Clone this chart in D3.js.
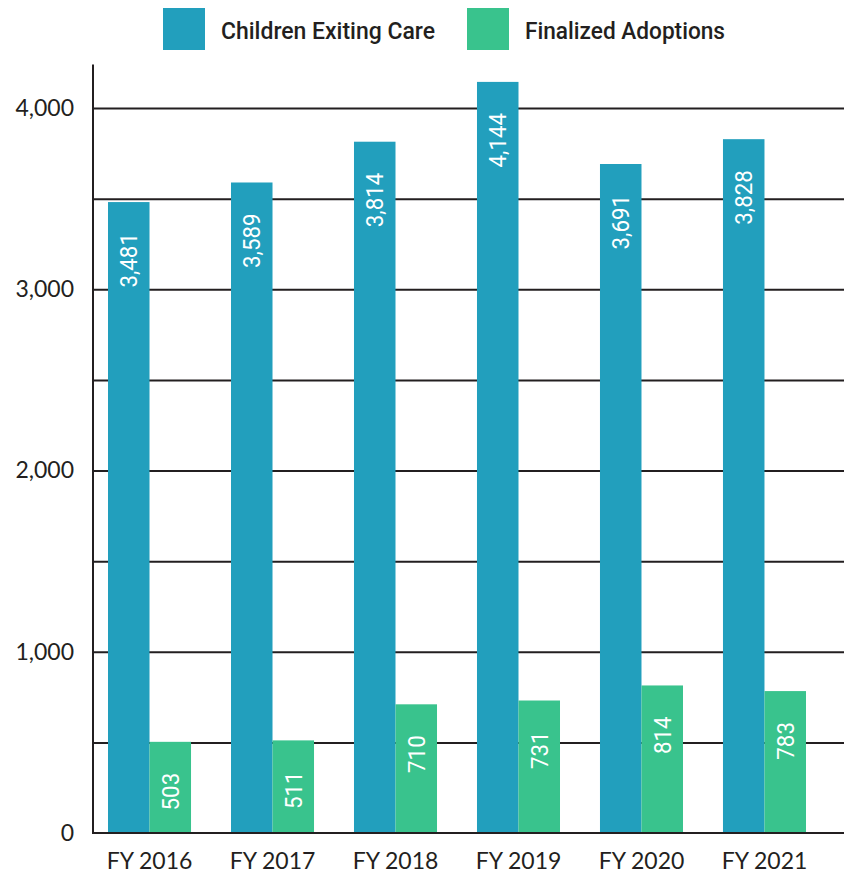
<!DOCTYPE html>
<html>
<head>
<meta charset="utf-8">
<script src="https://cdn.jsdelivr.net/npm/d3@7"></script>
<style>
  html, body { margin: 0; padding: 0; background: #ffffff; }
  svg { display: block; }
</style>
</head>
<body>
<svg id="chart" width="845" height="876"></svg>
<script>
const categories = ["FY 2016", "FY 2017", "FY 2018", "FY 2019", "FY 2020", "FY 2021"];
const seriesNames = ["Children Exiting Care", "Finalized Adoptions"];
const exitingCare = [3481, 3589, 3814, 4144, 3691, 3828];
const finalizedAdoptions = [503, 511, 710, 731, 814, 783];
const yTickValues = [0, 1000, 2000, 3000, 4000];
const gridValues = [500, 1000, 1500, 2000, 2500, 3000, 3500, 4000];
const seriesColors = ["#229fbd", "#39c38d"];

(function () {
const ink = "#231f20";
const svg = d3.select("#chart");
const mLeft = 93, mRight = 844, mBottom = 833, mTop = 64.5;

const y = d3.scaleLinear().domain([0, 4240]).range([mBottom, mTop]);
const x = d3.scaleBand().domain(categories).range([mLeft, mRight])
  .paddingInner(0.325).paddingOuter(0.2155).align(0.283);
const xs = d3.scaleBand().domain(seriesNames).range([0, x.bandwidth()]);
const color = d3.scaleOrdinal().domain(seriesNames).range(seriesColors);

const rows = categories.map((c, i) => ({
  category: c,
  values: [
    { series: seriesNames[0], value: exitingCare[i] },
    { series: seriesNames[1], value: finalizedAdoptions[i] }
  ]
}));

// gridlines
svg.append("g")
  .attr("transform", `translate(${mLeft},0)`)
  .call(d3.axisLeft(y).tickValues(gridValues).tickSize(-(mRight - mLeft)).tickFormat(""))
  .call(g => g.select(".domain").remove())
  .call(g => g.selectAll("line").attr("stroke", ink).attr("stroke-width", 2));

// bars
const groups = svg.append("g").selectAll("g").data(rows).join("g")
  .attr("transform", d => `translate(${x(d.category)},0)`);

groups.selectAll("rect").data(d => d.values).join("rect")
  .attr("x", d => xs(d.series))
  .attr("width", xs.bandwidth())
  .attr("y", d => y(d.value))
  .attr("height", d => y(0) - y(d.value))
  .attr("fill", d => color(d.series));

// bar value labels
groups.selectAll("text").data(d => d.values).join("text")
  .attr("transform", d => `translate(${xs(d.series) + xs.bandwidth() / 2},${y(d.value) + 31}) rotate(-90) scale(0.93,1)`)
  .attr("text-anchor", "end")
  .attr("dy", "0.36em")
  .attr("fill", "#ffffff")
  .style("font-family", "Roboto, 'Noto Sans', sans-serif")
  .style("font-size", "24px")
  .style("font-weight", 400)
  .text(d => d3.format(",")(d.value));

// axis lines
svg.append("line")
  .attr("x1", mLeft).attr("x2", mLeft)
  .attr("y1", y(0) + 1).attr("y2", y(4240))
  .attr("stroke", ink).attr("stroke-width", 2);
svg.append("line")
  .attr("x1", mLeft).attr("x2", mRight)
  .attr("y1", y(0)).attr("y2", y(0))
  .attr("stroke", ink).attr("stroke-width", 2);

// y axis labels
svg.append("g")
  .attr("transform", `translate(${mLeft},0)`)
  .call(d3.axisLeft(y).tickValues(yTickValues).tickSize(0).tickPadding(19).tickFormat(d3.format(",")))
  .call(g => g.select(".domain").remove())
  .call(g => g.selectAll("text")
    .attr("fill", ink)
    .style("font-family", "Lato, 'Open Sans', sans-serif")
    .style("font-size", "23px"));

// x axis labels
svg.append("g")
  .attr("transform", `translate(0,${mBottom})`)
  .call(d3.axisBottom(x).tickSize(0).tickPadding(20))
  .call(g => g.select(".domain").remove())
  .call(g => g.selectAll("text")
    .attr("fill", ink)
    .style("font-family", "Lato, 'Open Sans', sans-serif")
    .style("font-size", "23px"));

// legend
const legendX = [163, 467];
const legendTextWidth = [214, 200];
const legend = svg.append("g").selectAll("g").data(seriesNames).join("g")
  .attr("transform", (d, i) => `translate(${legendX[i]},8)`);
legend.append("rect")
  .attr("width", 42).attr("height", 42)
  .attr("fill", d => color(d));
legend.append("text")
  .attr("x", 58).attr("y", 22)
  .attr("dy", "0.36em")
  .attr("fill", ink)
  .attr("textLength", (d, i) => legendTextWidth[i])
  .attr("lengthAdjust", "spacingAndGlyphs")
  .style("font-family", "Roboto, 'Noto Sans', sans-serif")
  .style("font-size", "24px")
  .style("font-weight", 500)
  .text(d => d);
})();
</script>
</body>
</html>
